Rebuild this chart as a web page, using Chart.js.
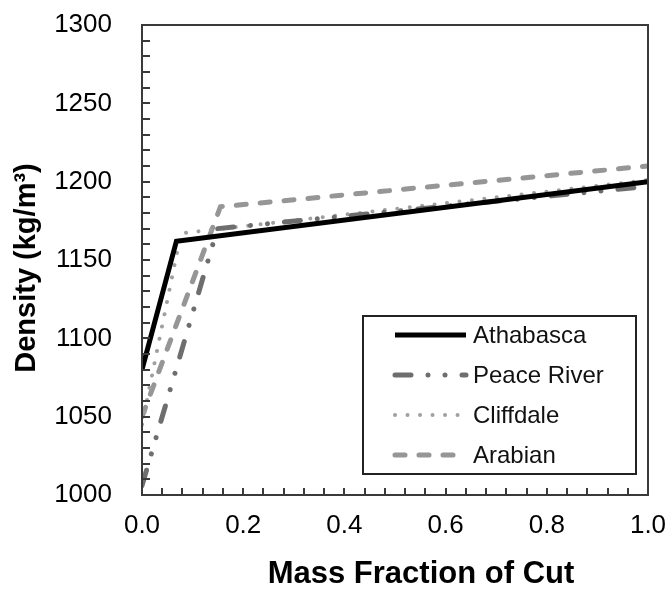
<!DOCTYPE html>
<html>
<head>
<meta charset="utf-8">
<script src="https://cdn.jsdelivr.net/npm/chart.js@4"></script>
<style>
  body { margin: 0; background: #fff; }
  #wrap { width: 672px; height: 590px; }
</style>
</head>
<body>
<div id="wrap"><canvas id="densityChart"></canvas></div>
<script>
const seriesNames = ["Athabasca", "Peace River", "Cliffdale", "Arabian"];

const athabascaX = [0, 0.068, 1.0];
const athabascaY = [1080, 1162, 1200];
const peaceX = [0, 0.149, 1.0];
const peaceY = [1006, 1170, 1197];
const cliffdaleX = [0, 0.077, 1.0];
const cliffdaleY = [1045, 1167, 1201];
const arabianX = [0, 0.155, 1.0];
const arabianY = [1050, 1184, 1210];

const xTicks = [0, 0.2, 0.4, 0.6, 0.8, 1.0];
const yTicks = [1000, 1050, 1100, 1150, 1200, 1250, 1300];

const xTitle = "Mass Fraction of Cut";
const yTitle = "Density (kg/m³)";

function toPoints(xs, ys) {
  return xs.map((x, i) => ({ x: x, y: ys[i] }));
}

const FONT = "'Liberation Sans', Arial, sans-serif";

// frame, inside minor ticks, axis titles and the boxed legend
const framePlugin = {
  id: "frame",
  afterDatasetsDraw(chart) {
    const ctx = chart.ctx;
    const a = chart.chartArea;
    const xs = chart.scales.x, ys = chart.scales.y;
    ctx.save();
    ctx.strokeStyle = "#3a3a3a";
    ctx.lineWidth = 2;
    ctx.beginPath();
    for (let v = 1000; v <= 1300; v += 10) {
      const py = Math.round(ys.getPixelForValue(v));
      ctx.moveTo(a.left, py);
      ctx.lineTo(a.left + 8, py);
    }
    for (let k = 0; k <= 25; k++) {
      const px = Math.round(xs.getPixelForValue(k * 0.04));
      ctx.moveTo(px, a.bottom);
      ctx.lineTo(px, a.bottom - 7);
    }
    ctx.stroke();
    ctx.strokeRect(a.left, a.top, a.right - a.left, a.bottom - a.top);

    // axis titles (sit a little off-centre in the original)
    ctx.fillStyle = "#000";
    ctx.textAlign = "center";
    ctx.textBaseline = "middle";
    ctx.font = "bold 31px " + FONT;
    ctx.fillText(xTitle, (a.left + a.right) / 2 + 26, 574);
    ctx.save();
    ctx.translate(27, (a.top + a.bottom) / 2 + 8);
    ctx.rotate(-Math.PI / 2);
    ctx.font = "bold 29px " + FONT;
    ctx.fillText(yTitle, 0, 0);
    ctx.restore();

    // legend
    const lx = 363, ly = 316, lw = 273, lh = 158;
    ctx.fillStyle = "#fff";
    ctx.fillRect(lx, ly, lw, lh);
    ctx.strokeStyle = "#222";
    ctx.lineWidth = 2;
    ctx.strokeRect(lx, ly, lw, lh);
    ctx.textAlign = "left";
    chart.data.datasets.forEach((ds, i) => {
      const y = 335 + i * 40;
      ctx.save();
      ctx.strokeStyle = ds.borderColor;
      ctx.lineWidth = ds.borderWidth;
      ctx.lineCap = ds.borderCapStyle || "butt";
      ctx.setLineDash(ds.borderDash || []);
      ctx.beginPath();
      ctx.moveTo(395, y);
      ctx.lineTo(466, y);
      ctx.stroke();
      ctx.restore();
      ctx.fillStyle = "#111";
      ctx.font = "24px " + FONT;
      ctx.fillText(ds.label, 473, y + 1);
    });
    ctx.restore();
  }
};

new Chart(document.getElementById("densityChart"), {
  type: "line",
  data: {
    datasets: [
      {
        label: seriesNames[0],
        data: toPoints(athabascaX, athabascaY),
        borderColor: "#000000",
        borderWidth: 5,
        borderCapStyle: "butt"
      },
      {
        label: seriesNames[1],
        data: toPoints(peaceX, peaceY),
        borderColor: "#6e6e6e",
        borderWidth: 5,
        borderCapStyle: "round",
        borderDash: [16, 17, 0.01, 17, 0.01, 17]
      },
      {
        label: seriesNames[2],
        data: toPoints(cliffdaleX, cliffdaleY),
        borderColor: "#a0a0a0",
        borderWidth: 4,
        borderCapStyle: "round",
        borderDash: [0.01, 12.5]
      },
      {
        label: seriesNames[3],
        data: toPoints(arabianX, arabianY),
        borderColor: "#969696",
        borderWidth: 5,
        borderCapStyle: "round",
        borderDash: [10, 14]
      }
    ]
  },
  options: {
    responsive: true,
    maintainAspectRatio: false,
    animation: false,
    layout: { padding: { top: 25, right: 24, left: 0, bottom: 0 } },
    elements: {
      point: { radius: 0, hoverRadius: 0 },
      line: { tension: 0, fill: false }
    },
    plugins: {
      legend: { display: false },
      tooltip: { enabled: false }
    },
    scales: {
      x: {
        type: "linear",
        min: 0,
        max: 1,
        afterBuildTicks: (scale) => {
          scale.ticks = xTicks.map(v => ({ value: v }));
        },
        afterFit: (scale) => {
          scale.height = 95;
          scale.paddingLeft = 0;
          scale.paddingRight = 0;
        },
        ticks: {
          color: "#000",
          font: { size: 26, family: FONT },
          padding: 15,
          maxRotation: 0,
          callback: (v) => Number(v).toFixed(1)
        },
        grid: { display: false, drawTicks: false },
        border: { display: false }
      },
      y: {
        type: "linear",
        min: 1000,
        max: 1300,
        afterBuildTicks: (scale) => {
          scale.ticks = yTicks.map(v => ({ value: v }));
        },
        afterFit: (scale) => {
          scale.width = 142;
          scale.paddingTop = 0;
          scale.paddingBottom = 0;
        },
        ticks: {
          color: "#000",
          font: { size: 26, family: FONT },
          padding: 30,
          callback: (v) => String(v)
        },
        grid: { display: false, drawTicks: false },
        border: { display: false }
      }
    }
  },
  plugins: [framePlugin]
});
</script>
</body>
</html>
